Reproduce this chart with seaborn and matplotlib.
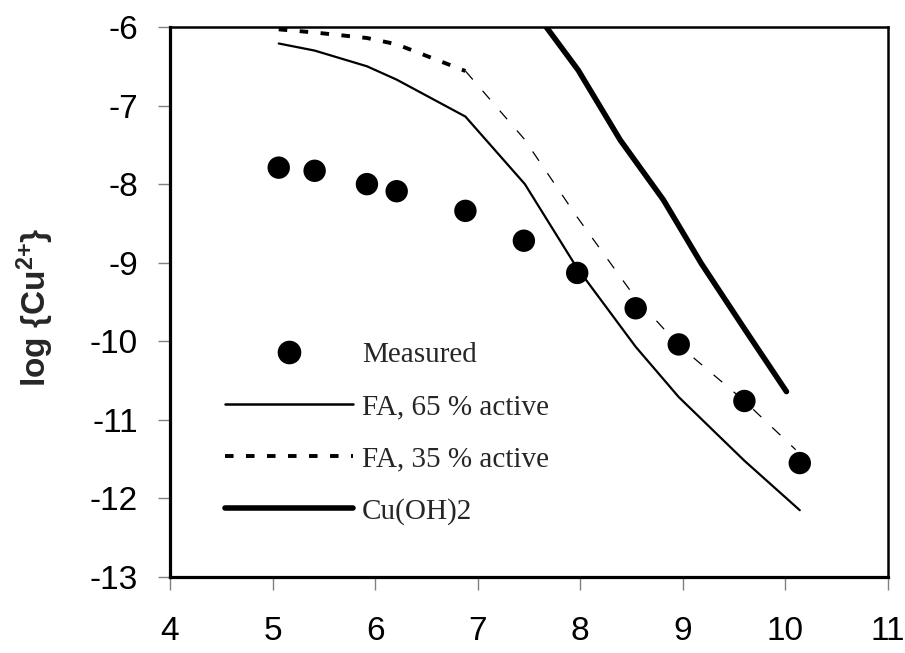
import matplotlib
matplotlib.use("Agg")
import matplotlib.pyplot as plt
from matplotlib.lines import Line2D
import seaborn as sns
import pandas as pd

# ---- data ----
ph_measured = [5.06, 5.41, 5.92, 6.21, 6.88, 7.45, 7.97, 8.54, 8.96, 9.60, 10.14]
cu_measured = [-7.79, -7.83, -8.00, -8.09, -8.34, -8.72, -9.13, -9.58, -10.04, -10.76, -11.55]

ph_fa65 = [5.06, 5.41, 5.92, 6.21, 6.88, 7.46, 7.96, 8.54, 8.96, 9.60, 10.14]
cu_fa65 = [-6.21, -6.30, -6.50, -6.67, -7.14, -8.00, -9.05, -10.07, -10.71, -11.52, -12.15]

ph_fa35 = [5.06, 5.41, 5.92, 6.21, 6.88, 7.45, 7.97, 8.54, 8.96, 9.60, 10.10]
cu_fa35 = [-6.03, -6.07, -6.14, -6.22, -6.56, -7.42, -8.42, -9.45, -10.05, -10.76, -11.38]

ph_cuoh2 = [7.60, 7.98, 8.39, 8.81, 9.18, 9.60, 10.01]
cu_cuoh2 = [-5.88, -6.55, -7.44, -8.20, -9.01, -9.84, -10.64]

labels = ["Measured", "FA, 65 % active", "FA, 35 % active", "Cu(OH)2"]
x_ticks = [4, 5, 6, 7, 8, 9, 10, 11]
y_ticks = [-13, -12, -11, -10, -9, -8, -7, -6]

# ---- style ----
sns.set_theme(style="white")
plt.rcParams["font.family"] = ["Liberation Sans", "DejaVu Sans"]
plt.rcParams["mathtext.fontset"] = "custom"
plt.rcParams["mathtext.rm"] = "Liberation Sans:bold"
plt.rcParams["mathtext.it"] = "Liberation Sans:bold"
plt.rcParams["mathtext.bf"] = "Liberation Sans:bold"

fig = plt.figure(figsize=(9.05, 6.53), dpi=100)
ax = fig.add_axes([170 / 905, 1 - 577 / 653, 718 / 905, 550 / 653])

df_meas = pd.DataFrame({"pH": ph_measured, "logCu": cu_measured})
df65 = pd.DataFrame({"pH": ph_fa65, "logCu": cu_fa65})
df35 = pd.DataFrame({"pH": ph_fa35, "logCu": cu_fa35})
dfcu = pd.DataFrame({"pH": ph_cuoh2, "logCu": cu_cuoh2})

sns.lineplot(data=df65, x="pH", y="logCu", ax=ax, color="black", lw=1.6,
             sort=False, estimator=None, solid_capstyle="round")
# FA 35 %: thick dotted first part, thin dashed remainder (as rendered in original)
sns.lineplot(data=df35.iloc[:5], x="pH", y="logCu", ax=ax, color="black", lw=2.8,
             sort=False, estimator=None, linestyle=(0, (2.2, 3.2)))
sns.lineplot(data=df35.iloc[4:], x="pH", y="logCu", ax=ax, color="black", lw=0.9,
             sort=False, estimator=None, linestyle=(0, (9, 12)))
sns.lineplot(data=dfcu, x="pH", y="logCu", ax=ax, color="black", lw=4.0,
             sort=False, estimator=None, solid_capstyle="round")
sns.scatterplot(data=df_meas, x="pH", y="logCu", ax=ax, color="black", s=260,
                edgecolor="none", zorder=5)

ax.set_xlim(4, 11)
ax.set_ylim(-13, -6)
ax.set_xticks(x_ticks)
ax.set_yticks(y_ticks)
ax.set_xticklabels([str(v) for v in x_ticks])
ax.set_yticklabels([str(v) for v in y_ticks])
ax.set_xlabel("")
ax.set_ylabel(r"log {Cu$^{2{+}}$}", fontsize=24, fontweight="bold")
ax.yaxis.label.set_va("center")
ax.yaxis.set_label_coords(-0.188, 0.49)

for side in ["left", "bottom"]:
    ax.spines[side].set_linewidth(2.3)
    ax.spines[side].set_color("black")
for side in ["top", "right"]:
    ax.spines[side].set_linewidth(1.8)
    ax.spines[side].set_color("black")
    ax.spines[side].set_visible(True)

ax.tick_params(axis="both", direction="out", length=9, width=1.0, color="#808080",
               labelsize=24, labelcolor="black")
ax.tick_params(axis="y", pad=14, left=True)
ax.tick_params(axis="x", pad=19, bottom=True)

handles = [
    Line2D([], [], marker="o", linestyle="none", color="black", markersize=16),
    Line2D([], [], color="black", lw=1.8),
    Line2D([], [], color="black", lw=2.8, linestyle=(0, (2.2, 3.2))),
    Line2D([], [], color="black", lw=4.0, solid_capstyle="round"),
]
leg = ax.legend(handles, labels, loc="upper left", bbox_to_anchor=(0.0766, 0.428),
                frameon=False, borderpad=0, borderaxespad=0, numpoints=1,
                handlelength=4.4, handletextpad=0.3, labelspacing=0.88,
                prop={"family": "Liberation Serif", "size": 21})

fig.savefig("out.png", dpi=100)
